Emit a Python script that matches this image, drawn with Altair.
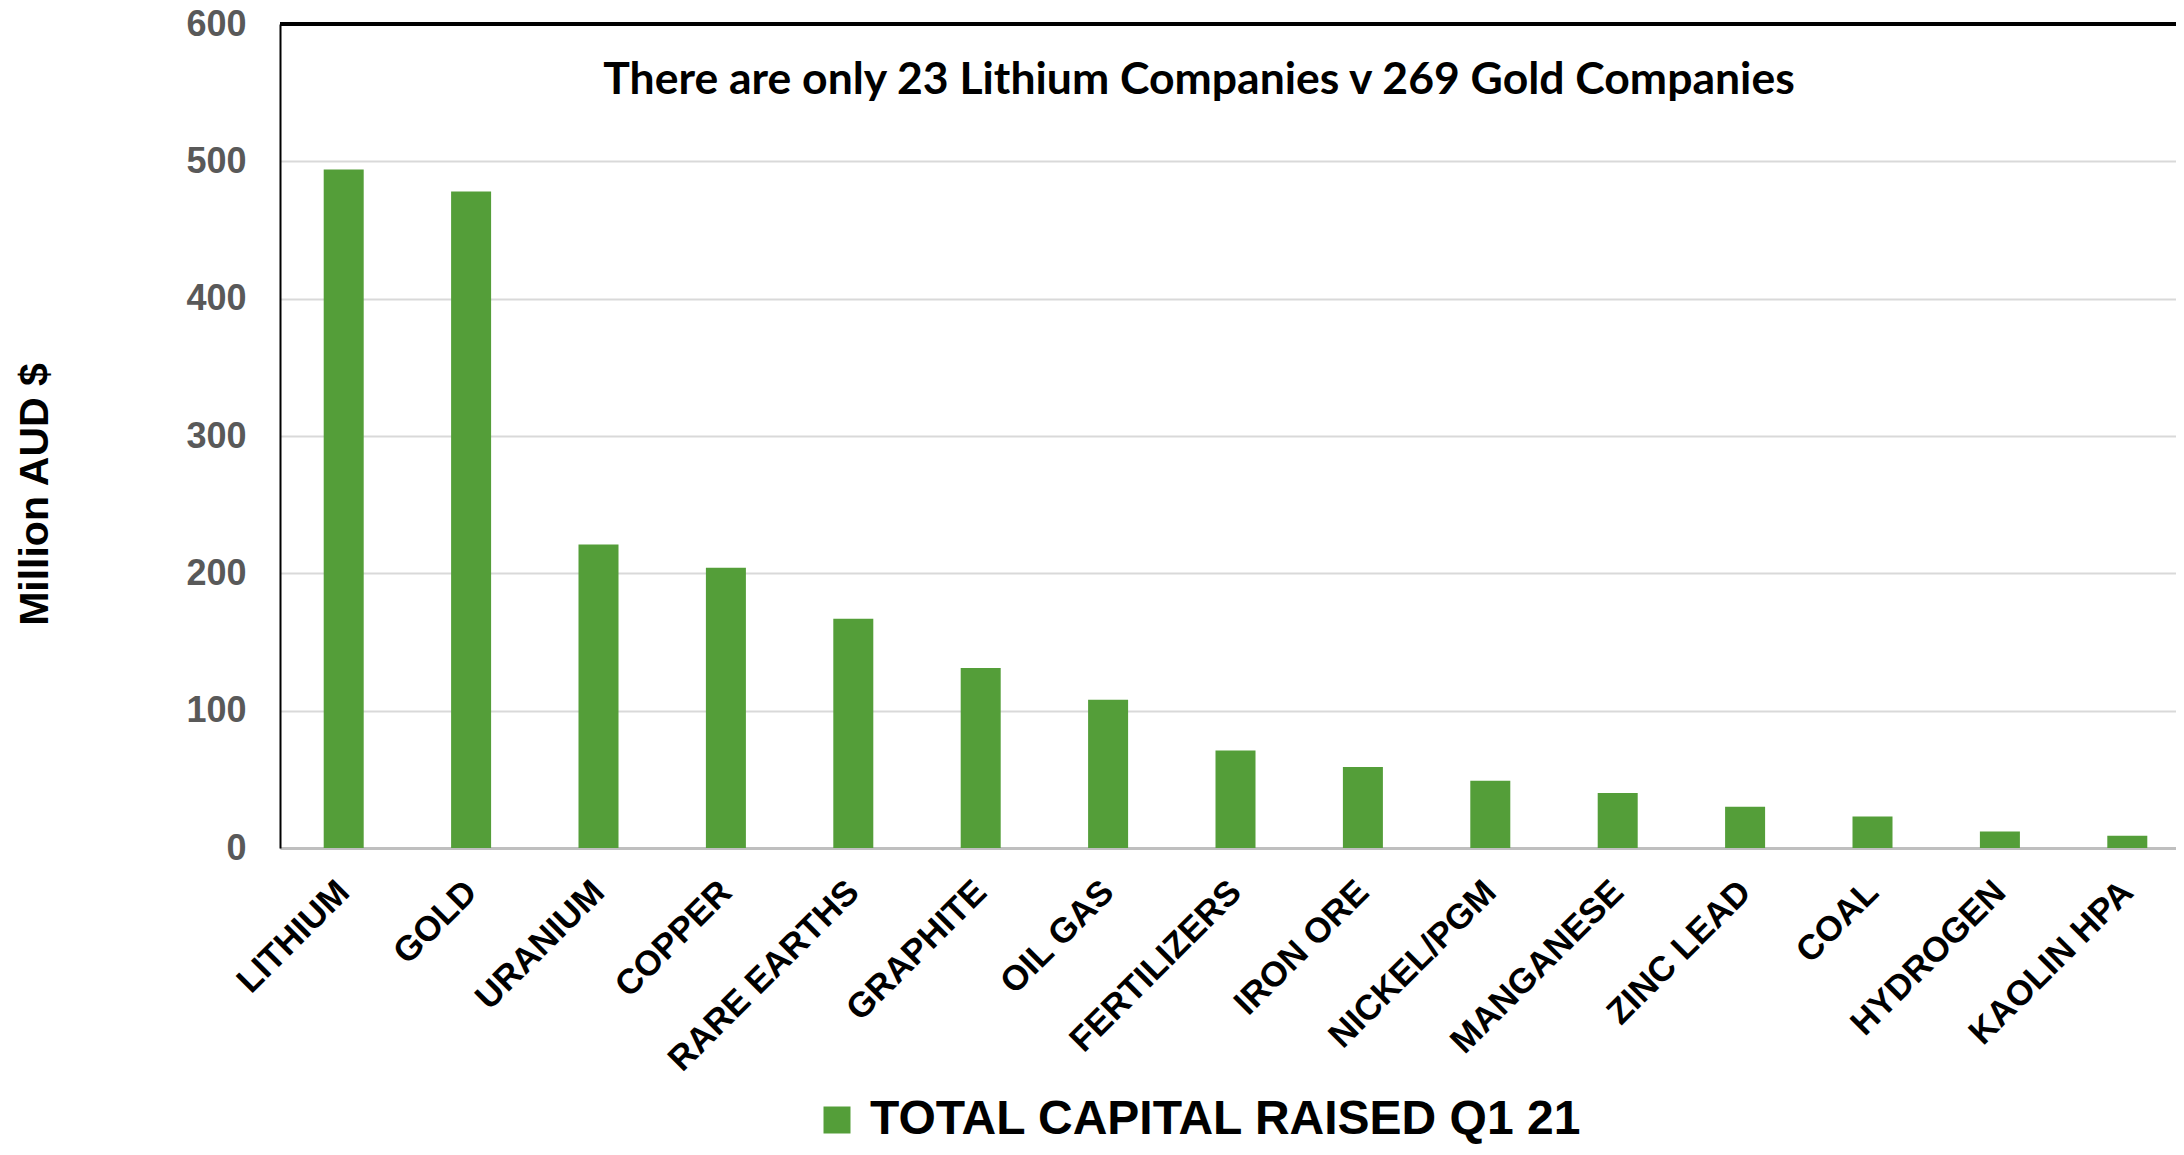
import altair as alt
import pandas as pd

categories = ["LITHIUM", "GOLD", "URANIUM", "COPPER", "RARE EARTHS", "GRAPHITE",
              "OIL GAS", "FERTILIZERS", "IRON ORE", "NICKEL/PGM", "MANGANESE",
              "ZINC LEAD", "COAL", "HYDROGEN", "KAOLIN HPA"]
values = [494, 478, 221, 204, 167, 131, 108, 71, 59, 49, 40, 30, 23, 12, 9]
series_name = "TOTAL CAPITAL RAISED Q1 21"
y_ticks = [0, 100, 200, 300, 400, 500, 600]
headline = "There are only 23 Lithium Companies v 269 Gold Companies"

df = pd.DataFrame({"category": categories, "value": values, "series": series_name})

W = 1896
H = 824
GREEN = "#549E39"
FONT = "Liberation Sans"

base = alt.Chart(df)

bars = base.mark_bar(size=40, color=GREEN).encode(
    x=alt.X("category:N", sort=categories, title=None,
            scale=alt.Scale(paddingInner=0.68, paddingOuter=0.34, range=[0, 1911]),
            axis=alt.Axis(labelAngle=-45, labelAlign="right", labelBaseline="middle",
                          labelFont=FONT, labelFontWeight="bold", labelFontSize=35,
                          labelColor="#000000", labelPadding=38, ticks=False,
                          domainColor="#BFBFBF", domainWidth=3, grid=False,
                          labelOverlap=False, labelLimit=500)),
    y=alt.Y("value:Q", title="Million AUD $",
            scale=alt.Scale(domain=[0, 600], nice=False),
            axis=alt.Axis(values=y_ticks, labelFont=FONT, labelFontWeight="bold",
                          labelFontSize=36, labelColor="#595959", labelPadding=34,
                          ticks=False, domainColor="#000000", domainWidth=2,
                          gridColor="#D9D9D9", gridWidth=2,
                          titleFont=FONT, titleFontWeight="bold", titleFontSize=41,
                          titleColor="#000000", titleAngle=-90, titleX=-245,
                          titleY=470, titleAlign="center", titleBaseline="middle")),
    color=alt.Color("series:N", scale=alt.Scale(range=[GREEN]),
                    legend=alt.Legend(title=None, orient="none", legendX=533, legendY=1072,
                                      symbolType="square", symbolSize=729,
                                      symbolStrokeWidth=0, labelFont=FONT,
                                      labelFontWeight="bold", labelFontSize=48,
                                      labelColor="#000000", labelOffset=9,
                                      padding=0, labelLimit=1000)),
)

top_border = base.mark_rule(color="#000000", strokeWidth=3).encode(
    x=alt.value(0), x2=alt.value(W + 10), y=alt.value(0)
)

title_text = alt.Chart(pd.DataFrame({"t": [headline]})).mark_text(
    font="Lato", fontWeight="bold", fontSize=44.5, color="#000000",
    align="center", baseline="middle"
).encode(text="t:N", x=alt.value(919), y=alt.value(57))

chart = alt.layer(bars, top_border, title_text).properties(
    width=W, height=H,
    autosize=alt.AutoSizeParams(type="none"),
    padding={"left": 272, "top": 16, "right": 0, "bottom": 296},
).configure_view(stroke=None).configure(background="#FFFFFF")

chart.save("out.html", embed_options={"renderer": "svg", "actions": False})
